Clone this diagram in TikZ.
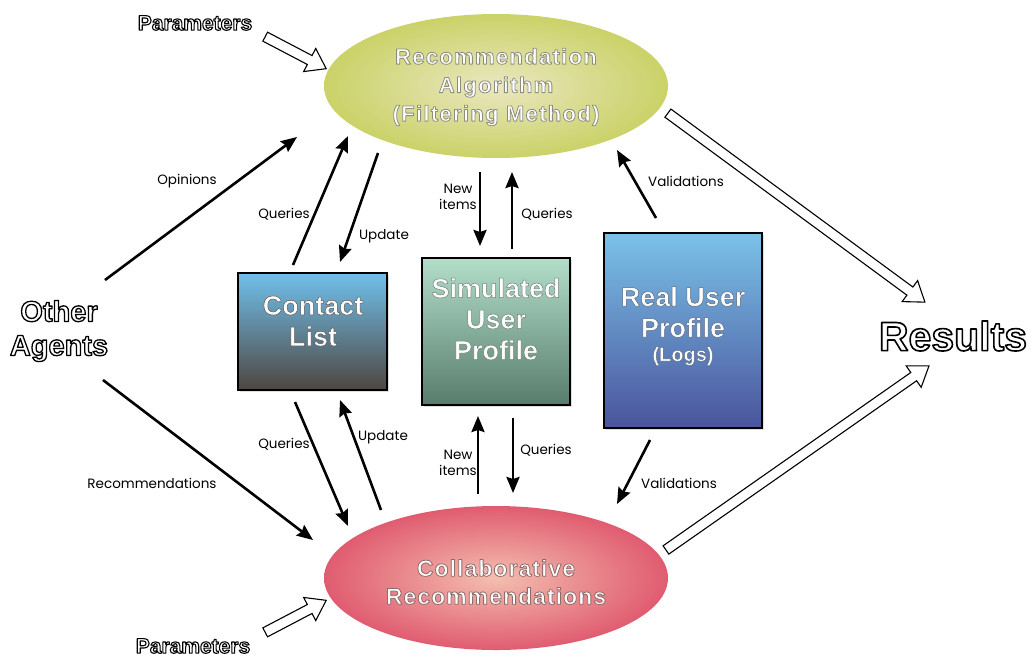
\documentclass[tikz,border=0pt]{standalone}
\usepackage{fontspec}
\setmainfont{Liberation Sans}
\newfontfamily\labelfont{Poppins}
\newfontfamily\algfont[LetterSpace=6]{Liberation Sans}
\newfontfamily\colfont[LetterSpace=4.5]{Liberation Sans}
\usetikzlibrary{arrows.meta,shapes.geometric,shapes.arrows,calc,shadows}

% outlined lettering: glyphs filled in the current colour and stroked
% with colour #1 (rgb) at width #2
\newcommand\outlinetext[3]{%
  \special{pdf:literal direct 2 Tr 1 j #2 w #1 RG}#3\special{pdf:literal direct 0 Tr 0 j}}

\definecolor{algouter}{RGB}{202,210,104}
\definecolor{alginner}{RGB}{234,231,192}
\definecolor{colouter}{RGB}{224,92,112}
\definecolor{colinner}{RGB}{244,190,176}
\definecolor{cltop}{RGB}{112,192,236}
\definecolor{clmid}{RGB}{118,136,140}
\definecolor{clbot}{RGB}{78,70,64}
\definecolor{simtop}{RGB}{178,222,202}
\definecolor{simbot}{RGB}{88,124,108}
\definecolor{realtop}{RGB}{122,194,232}
\definecolor{realbot}{RGB}{74,84,156}

\tikzset{
  ellnode/.style={ellipse, minimum width=344pt, minimum height=144pt, inner sep=0pt},
  profbox/.style={draw=black, line width=2.6pt, inner sep=0pt,
    drop shadow={opacity=0.25, shadow xshift=2pt, shadow yshift=-2pt}},
  boxtext/.style={text=white, font=\bfseries\fontsize{27}{31}\selectfont, align=center, inner sep=0pt},
  conn/.style={line width=2.6pt, -{Stealth[length=16pt, width=13pt, inset=2pt]}},
  lbl/.style={font=\labelfont\fontsize{13.5}{16}\selectfont, align=center, inner sep=0pt},
  outlined/.style={text=white, align=center, inner sep=0pt},
  hollow/.style={single arrow, draw=black, fill=white, line width=1.1pt,
    inner xsep=0pt, inner ysep=4.5pt, single arrow head extend=8pt,
    single arrow tip angle=70},
}

% hollow block arrow from #2 to #3
\newcommand\blockarrow[3][]{%
  \path let \p1=($(#3)-(#2)$), \n1={atan2(\y1,\x1)}, \n2={veclen(\x1,\y1)} in
    node[hollow, #1, rotate=\n1, minimum height=\n2] at ($(#2)!0.5!(#3)$) {};}

\begin{document}
\begin{tikzpicture}[x=1pt, y=-1pt]
\useasboundingbox (0,0) rectangle (1032,657);

% ---- main elements
\node[ellnode, inner color=alginner, outer color=algouter] (alg) at (496,86) {};
\node[outlined, font=\algfont\bfseries\fontsize{22}{28.5}\selectfont] (algtxt) at (496,87)
  {\outlinetext{0.55 0.55 0.5}{0.8}{Recommendation\\Algorithm\\(Filtering Method)}};

\node[ellnode, inner color=colinner, outer color=colouter] (col) at (496,578) {};
\node[outlined, font=\colfont\bfseries\fontsize{23}{28}\selectfont] (coltxt) at (496,582)
  {\outlinetext{0.55 0.42 0.42}{0.8}{Collaborative\\Recommendations}};

\node[profbox, minimum width=149pt, minimum height=117pt,
  shading=axis, top color=cltop, middle color=clmid, bottom color=clbot] (cl) at (312.5,331.5) {};
\node[boxtext] (cltxt) at (313,321) {\outlinetext{0.35 0.35 0.35}{0.5}{Contact\\List}};

\node[profbox, minimum width=148pt, minimum height=147pt,
  shading=axis, top color=simtop, bottom color=simbot] (sim) at (496,331.5) {};
\node[boxtext] (simtxt) at (496,319) {\outlinetext{0.45 0.5 0.48}{0.5}{Simulated\\User\\Profile}};

\node[profbox, minimum width=158pt, minimum height=195pt,
  shading=axis, top color=realtop, bottom color=realbot] (real) at (683,330.5) {};
\node[boxtext] (realtxt) at (683,312)
  {\outlinetext{0.35 0.4 0.5}{0.5}{Real User\\Profile}};
\node[outlined, font=\bfseries\fontsize{20}{24}\selectfont] (logs) at (683,356) {\outlinetext{0.35 0.4 0.5}{0.4}{(Logs)}};

% ---- outlined titles
\node[outlined, font=\bfseries\fontsize{21}{24}\selectfont] (ptop) at (195,23) {\outlinetext{0 0 0}{1.1}{Parameters}};
\node[outlined, font=\bfseries\fontsize{21}{24}\selectfont] (pbot) at (193,646) {\outlinetext{0 0 0}{1.1}{Parameters}};
\node[outlined, font=\bfseries\fontsize{29}{34}\selectfont] (agents) at (59,331) {\outlinetext{0 0 0}{1.3}{Other\\Agents}};
\node[outlined, font=\bfseries\fontsize{41}{46}\selectfont] (res) at (953,336) {\outlinetext{0 0 0}{1.6}{Results}};

% ---- connector end points
\coordinate (opA) at (105,280);  \coordinate (opB) at (297,137);
\coordinate (reA) at (103,380);  \coordinate (reB) at (313,540);
\coordinate (q1A) at (293,265);  \coordinate (q1B) at (348,136);
\coordinate (u1A) at (378,153);  \coordinate (u1B) at (340,262);
\coordinate (n1A) at (480,172);  \coordinate (n1B) at (480,246);
\coordinate (q2A) at (512,249);  \coordinate (q2B) at (512,172);
\coordinate (v1A) at (656,218);  \coordinate (v1B) at (617,150);
\coordinate (q3A) at (295,402);  \coordinate (q3B) at (348,526);
\coordinate (u2A) at (381,510);  \coordinate (u2B) at (340,400);
\coordinate (n2A) at (478,494);  \coordinate (n2B) at (478,416);
\coordinate (q4A) at (513,418);  \coordinate (q4B) at (513,493);
\coordinate (v2A) at (650,440);  \coordinate (v2B) at (617,504);

\draw[conn] (opA) -- (opB);
\draw[conn] (reA) -- (reB);
\draw[conn] (q1A) -- (q1B);
\draw[conn] (u1A) -- (u1B);
\draw[conn] (n1A) -- (n1B);
\draw[conn] (q2A) -- (q2B);
\draw[conn] (v1A) -- (v1B);
\draw[conn] (q3A) -- (q3B);
\draw[conn] (u2A) -- (u2B);
\draw[conn] (n2A) -- (n2B);
\draw[conn] (q4A) -- (q4B);
\draw[conn] (v2A) -- (v2B);

% ---- connector labels
\node[lbl] (lop) at (187,181) {Opinions};
\node[lbl] (lre) at (152,483) {Recommendations};
\node[lbl] (lq1) at (284,214) {Queries};
\node[lbl] (lu1) at (384,236) {Update};
\node[lbl] (ln1) at (458,197) {New\\items};
\node[lbl] (lq2) at (547,214) {Queries};
\node[lbl] (lv1) at (686,181) {Validations};
\node[lbl] (lq3) at (284,444) {Queries};
\node[lbl] (lu2) at (383,437) {Update};
\node[lbl] (ln2) at (458,463) {New\\items};
\node[lbl] (lq4) at (546,450) {Queries};
\node[lbl] (lv2) at (679,483) {Validations};

% ---- block arrows
\coordinate (paA) at (262,35);  \coordinate (paB) at (323,67);
\coordinate (pbA) at (262,634); \coordinate (pbB) at (323,602);
\coordinate (r1A) at (665,111); \coordinate (r1B) at (922,300);
\coordinate (r2A) at (663,552); \coordinate (r2B) at (926,368);
\blockarrow{paA}{paB}
\blockarrow{pbA}{pbB}
\blockarrow{r1A}{r1B}
\blockarrow{r2A}{r2B}
\end{tikzpicture}
\end{document}
